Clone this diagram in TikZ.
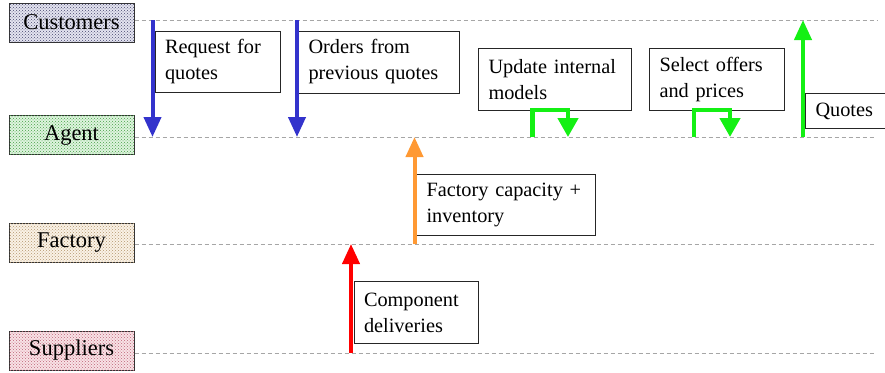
\documentclass[tikz,border=0pt]{standalone}
\usepackage{fontspec}
\setmainfont{Liberation Serif}
\usetikzlibrary{arrows.meta,patterns}
\definecolor{bluearr}{RGB}{51,51,204}
\definecolor{greenarr}{RGB}{20,240,20}
\definecolor{orangearr}{RGB}{255,153,51}
\definecolor{redarr}{RGB}{255,0,0}
\definecolor{custfill}{RGB}{228,228,240}
\definecolor{custdot}{RGB}{70,70,110}
\definecolor{agentfill}{RGB}{222,244,222}
\definecolor{agentdot}{RGB}{70,160,70}
\definecolor{factfill}{RGB}{250,242,230}
\definecolor{factdot}{RGB}{180,150,110}
\definecolor{supfill}{RGB}{248,226,230}
\definecolor{supdot}{RGB}{190,100,120}
\tikzset{
  lane/.style n args={2}{draw=black!80, line width=1pt, fill=#1,
    postaction={pattern=crosshatch dots, pattern color=#2},
    minimum width=125pt, minimum height=39pt, inner sep=0pt,
    font=\fontsize{22.5}{25}\selectfont},
  lanebox/.style={draw=black!85, line width=1pt, fill=white, anchor=north west,
    align=left, inner xsep=10pt, inner ysep=0pt,
    font=\fontsize{20.3}{26}\selectfont},
  swim/.style={draw=black!35, line width=0.8pt, dash pattern=on 4pt off 3pt},
  flow/.style={line width=4pt, -{Triangle[width=17pt,length=20pt]}},
  hook/.style={line width=4.5pt, -{Triangle[width=20pt,length=19pt]}},
}
\begin{document}
\begin{tikzpicture}[x=1pt,y=-1pt]
\clip (0,0) rectangle (885,372);
\fill[white] (0,0) rectangle (885,372);
% lanes
\node[lane={custfill}{custdot}] (cust) at (71.5,22.5) {Customers};
\node[lane={agentfill}{agentdot}] (agent) at (71.5,135) {Agent};
\node[lane={factfill}{factdot}] (fact) at (71.5,243) {Factory};
\node[lane={supfill}{supdot}] (sup) at (71.5,350.5) {Suppliers};
\coordinate (custE) at (878,20);
\coordinate (agentE) at (876,137);
\coordinate (factE) at (876,244);
\coordinate (supE) at (876,353);
\draw[swim] (cust.east |- custE) -- (custE);
\draw[swim] (agent.east |- agentE) -- (agentE);
\draw[swim] (fact.east |- factE) -- (factE);
\draw[swim] (sup.east |- supE) -- (supE);
% label boxes
\node[lanebox, text width=105pt, minimum height=61pt] (req) at (154.5,31) {Request for\\quotes};
\node[lanebox, text width=141pt, minimum height=62pt] (ord) at (298,30.5) {Orders from\\previous quotes};
\node[lanebox, text width=133pt, minimum height=62pt] (upd) at (478,48) {Update internal\\models};
\node[lanebox, text width=115pt, minimum height=62pt] (sel) at (649,48) {Select offers\\and prices};
\node[lanebox, text width=120pt, minimum height=35pt] (quo) at (805,93) {Quotes};
\node[lanebox, text width=159pt, minimum height=61pt] (cap) at (416,174) {Factory capacity +\\inventory};
\node[lanebox, text width=104pt, minimum height=62pt] (comp) at (353.5,281) {Component\\deliveries};
% arrow end points
\coordinate (r1) at (152.5,20);  \coordinate (r2) at (152.5,137);
\coordinate (o1) at (297,20);    \coordinate (o2) at (297,137);
\coordinate (u1) at (532.5,137); \coordinate (u2) at (532.5,110); \coordinate (u3) at (568,110); \coordinate (u4) at (568,137);
\coordinate (s1) at (694,137);   \coordinate (s2) at (694,110);   \coordinate (s3) at (730,110);   \coordinate (s4) at (730,137);
\coordinate (q1) at (803,137);   \coordinate (q2) at (803,20);
\coordinate (f1) at (414.5,244); \coordinate (f2) at (414.5,137);
\coordinate (c1) at (351,353);   \coordinate (c2) at (351,244);
\draw[flow, bluearr] (r1) -- (r2);
\draw[flow, bluearr] (o1) -- (o2);
\draw[hook, greenarr] (u1) -- (u2) -- (u3) -- (u4);
\draw[hook, greenarr] (s1) -- (s2) -- (s3) -- (s4);
\draw[flow, greenarr] (q1) -- (q2);
\draw[flow, orangearr] (f1) -- (f2);
\draw[flow, redarr] (c1) -- (c2);
\end{tikzpicture}
\end{document}
